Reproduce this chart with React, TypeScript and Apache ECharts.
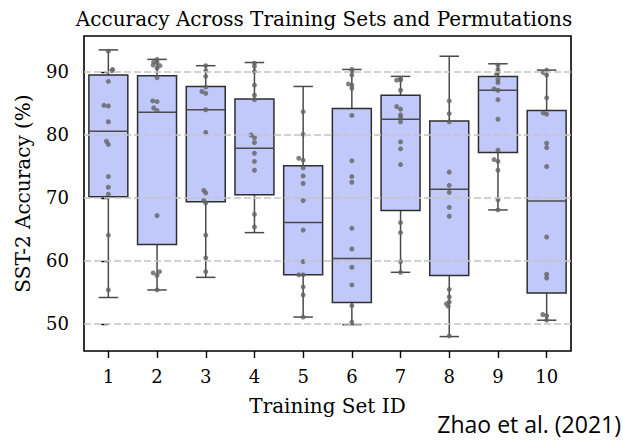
import React, { useEffect, useRef } from "react";
import * as echarts from "echarts";

const categories = ["1", "2", "3", "4", "5", "6", "7", "8", "9", "10"];
const boxMin = [54.2, 55.4, 57.4, 64.5, 51.1, 49.9, 58.2, 48.0, 68.1, 50.6];
const boxQ1 = [70.2, 62.6, 69.4, 70.5, 57.8, 53.4, 68.0, 57.7, 77.2, 54.9];
const boxMedian = [80.6, 83.6, 84.0, 77.9, 66.1, 60.4, 82.5, 71.4, 87.1, 69.5];
const boxQ3 = [89.5, 89.4, 87.7, 85.7, 75.1, 84.2, 86.3, 82.2, 89.3, 83.9];
const boxMax = [93.5, 92.0, 91.0, 91.5, 87.7, 90.4, 89.3, 92.5, 91.3, 90.3];
const yTicks = [50, 60, 70, 80, 90];

// [accuracy, small horizontal jitter in category units]
const set1 = [[93.3, 0], [90.4, 0.09], [90.2, 0.07], [88.5, 0], [84.7, -0.09], [84.6, 0], [82.1, 0], [79.0, -0.04], [78.5, 0], [73.4, 0], [71.7, 0], [70.6, 0], [64.1, 0], [55.4, 0]];
const set2 = [[92.0, 0], [91.6, -0.07], [91.5, 0], [91.1, -0.08], [91.0, 0.06], [90.6, 0], [89.1, 0], [85.4, -0.09], [85.3, 0], [84.3, -0.07], [83.9, 0], [67.2, 0], [58.3, 0.05], [58.1, -0.08], [57.7, 0], [55.4, 0]];
const set3 = [[91.0, 0], [90.2, 0], [89.3, 0], [87.6, 0], [86.9, -0.08], [86.6, 0], [84.0, 0], [80.4, 0], [71.2, -0.04], [70.8, 0], [69.6, -0.04], [69.2, 0], [64.1, 0], [60.5, 0], [58.3, 0]];
const set4 = [[91.4, 0], [90.9, 0], [90.1, 0], [87.9, 0], [86.3, 0], [85.6, 0], [80.0, -0.07], [79.6, 0], [78.8, 0], [77.1, 0], [75.8, 0], [74.4, 0], [67.4, 0], [65.4, 0]];
const set5 = [[83.7, 0], [80.1, 0], [76.3, -0.09], [76.0, 0], [74.8, 0], [73.5, 0], [72.3, 0], [69.6, 0], [64.9, 0], [59.9, 0], [57.8, -0.09], [57.8, 0], [55.9, 0], [54.6, 0], [51.1, 0]];
const set6 = [[90.4, 0], [90.1, 0], [89.5, 0], [88.1, -0.07], [87.9, 0], [87.4, 0], [83.1, 0], [75.9, 0], [73.4, 0], [72.5, 0], [65.2, 0], [61.9, 0], [59.0, 0], [56.2, 0], [52.9, 0], [50.3, 0]];
const set7 = [[89.0, 0], [88.7, -0.08], [88.7, 0], [87.1, 0], [84.5, -0.08], [84.1, 0], [83.2, 0], [82.8, 0], [82.1, 0], [78.9, 0], [77.8, 0], [75.3, 0], [66.1, 0], [64.5, 0], [59.9, 0], [58.2, 0]];
const set8 = [[85.4, 0], [83.4, 0], [82.1, 0], [74.1, 0], [72.0, 0], [70.9, 0], [68.5, 0], [67.1, 0], [55.5, 0], [54.3, 0], [53.5, 0], [53.2, -0.06], [52.8, -0.02], [48.1, 0]];
const set9 = [[91.1, 0], [90.4, 0], [89.9, 0], [89.6, -0.03], [88.8, 0], [88.3, 0], [87.3, -0.08], [87.1, 0], [85.6, 0], [82.5, 0], [77.6, 0], [76.1, -0.08], [75.8, 0], [74.4, 0], [69.7, 0], [68.1, 0]];
const set10 = [[90.3, 0], [89.9, -0.07], [89.5, 0], [85.9, 0], [83.5, -0.07], [83.3, 0], [78.7, 0], [78.0, 0], [75.0, 0], [63.8, 0], [57.9, 0], [57.3, 0], [51.5, -0.08], [51.3, 0], [50.6, 0]];
const pointSets = [set1, set2, set3, set4, set5, set6, set7, set8, set9, set10];

const SERIF = "DejaVu Serif";

export default function App() {
  const ref = useRef<HTMLDivElement>(null);
  useEffect(() => {
    document.body.style.margin = "0";
    const chart = echarts.init(ref.current!, undefined, { renderer: "svg" });
    const boxData = categories.map((_, i) => [i, boxMin[i], boxQ1[i], boxMedian[i], boxQ3[i], boxMax[i]]);
    const scatterData: number[][] = [];
    pointSets.forEach((s, i) => s.forEach(([v, o]) => scatterData.push([i + o, v])));
    const lineColor = "#4a4a4a";
    chart.setOption({
      animation: false,
      title: {
        text: "Accuracy Across Training Sets and Permutations",
        left: 319,
        top: 4,
        textAlign: "center",
        textStyle: { fontFamily: SERIF, fontSize: 20, fontWeight: "normal", color: "#000" },
      },
      grid: { left: 84, right: 52, top: 36, bottom: 92, show: true, borderColor: "#000", borderWidth: 1.6, backgroundColor: "transparent" },
      xAxis: [
        {
          type: "category",
          data: categories,
          boundaryGap: true,
          name: "Training Set ID",
          nameLocation: "middle",
          nameGap: 45,
          nameTextStyle: { fontFamily: SERIF, fontSize: 20, color: "#000" },
          axisLine: { show: false },
          axisTick: { show: true, alignWithLabel: true, length: 7, lineStyle: { color: "#000", width: 1.4 } },
          axisLabel: { fontFamily: SERIF, fontSize: 18, color: "#000", margin: 16 },
          splitLine: { show: false },
        },
        { type: "value", min: -0.5, max: 9.5, show: false },
      ],
      yAxis: {
        type: "value",
        min: 45.71,
        max: 95.71,
        name: "SST-2 Accuracy (%)",
        nameLocation: "middle",
        nameGap: 51,
        nameRotate: 90,
        nameTextStyle: { fontFamily: SERIF, fontSize: 20, color: "#000" },
        axisLine: { show: false },
        axisTick: { show: true, length: 7, customValues: yTicks, lineStyle: { color: "#000", width: 1.4 } },
        axisLabel: { fontFamily: SERIF, fontSize: 18, color: "#000", margin: 15, customValues: yTicks },
        splitLine: { show: false },
      },
      series: [
        {
          type: "custom",
          xAxisIndex: 0,
          data: boxData,
          encode: { x: 0, y: [1, 2, 3, 4, 5] },
          z: 2,
          renderItem: (params: any, api: any) => {
            const x = api.value(0);
            const pMin = api.coord([x, api.value(1)]);
            const pQ1 = api.coord([x, api.value(2)]);
            const pMed = api.coord([x, api.value(3)]);
            const pQ3 = api.coord([x, api.value(4)]);
            const pMax = api.coord([x, api.value(5)]);
            const cx = pMed[0];
            const bw = api.size([1, 0])[0] * 0.8;
            const cw = bw / 4;
            const ls = { stroke: lineColor, lineWidth: 1.5 };
            return {
              type: "group",
              children: [
                { type: "line", shape: { x1: cx, y1: pMax[1], x2: cx, y2: pQ3[1] }, style: ls },
                { type: "line", shape: { x1: cx, y1: pQ1[1], x2: cx, y2: pMin[1] }, style: ls },
                { type: "line", shape: { x1: cx - cw, y1: pMax[1], x2: cx + cw, y2: pMax[1] }, style: ls },
                { type: "line", shape: { x1: cx - cw, y1: pMin[1], x2: cx + cw, y2: pMin[1] }, style: ls },
                { type: "rect", shape: { x: cx - bw / 2, y: pQ3[1], width: bw, height: pQ1[1] - pQ3[1] }, style: { fill: "#c1c9fa", stroke: "#2e2e2e", lineWidth: 1.5 } },
                { type: "line", shape: { x1: cx - bw / 2, y1: pMed[1], x2: cx + bw / 2, y2: pMed[1] }, style: ls },
              ],
            };
          },
        },
        {
          type: "scatter",
          xAxisIndex: 1,
          data: scatterData,
          symbolSize: 5,
          itemStyle: { color: "#636363" },
          z: 4,
          markLine: {
            silent: true,
            symbol: "none",
            label: { show: false },
            lineStyle: { color: "#c4c4c4", width: 1.5, type: [7, 3] },
            data: yTicks.map((v) => ({ yAxis: v })),
          },
        },
      ],
      graphic: [
        {
          type: "text",
          right: 2,
          top: 412,
          style: { text: "Zhao et al. (2021)", fontFamily: "Open Sans", fontSize: 23, fill: "#000" },
        },
      ],
    });
    return () => chart.dispose();
  }, []);
  return <div ref={ref} style={{ width: 623, height: 443 }} />;
}
